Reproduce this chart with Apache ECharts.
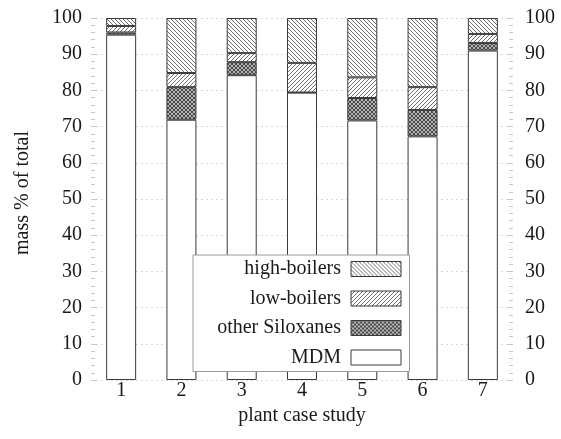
<!DOCTYPE html>
<html>
<head>
<meta charset="utf-8">
<script src="https://cdn.jsdelivr.net/npm/echarts@6/dist/echarts.min.js"></script>
<style>
html,body{margin:0;padding:0;background:#fff;}
#chart{width:561px;height:439px;}
</style>
</head>
<body>
<div id="chart"></div>
<script>
const categories = ['1', '2', '3', '4', '5', '6', '7'];
const mdm = [95.4, 71.9, 84.2, 79.4, 71.7, 67.3, 91.0];
const otherSiloxanes = [0.6, 9.0, 3.6, 0, 6.2, 7.3, 2.1];
const lowBoilers = [1.8, 3.9, 2.5, 8.2, 5.7, 6.3, 2.5];
const highBoilers = [2.2, 15.2, 9.7, 12.4, 16.4, 19.1, 4.4];
const yTicks = [0, 10, 20, 30, 40, 50, 60, 70, 80, 90, 100];

function makeTile(kind) {
  const c = document.createElement('canvas');
  c.width = 4; c.height = 4;
  const g = c.getContext('2d');
  if (kind === 'cross') {
    g.fillStyle = '#b4b4b4'; g.fillRect(0, 0, 4, 4);
    g.fillStyle = '#4a4a4a';
    for (let i = 0; i < 4; i++) { g.fillRect(i, i, 1, 1); g.fillRect(3 - i, i, 1, 1); }
  } else {
    g.fillStyle = '#ffffff'; g.fillRect(0, 0, 4, 4);
    g.fillStyle = '#707070';
    for (let i = 0; i < 4; i++) {
      if (kind === 'back') g.fillRect(i, i, 1, 1);
      else g.fillRect(3 - i, i, 1, 1);
    }
  }
  return { image: c, repeat: 'repeat' };
}

const FONT = 'Liberation Serif';
const txt = { fontFamily: FONT, fontSize: 20, color: '#1a1a1a' };
const border = { borderColor: '#3a3a3a', borderWidth: 1 };

function yAxis(pos, margin) {
  return {
    type: 'value', position: pos, min: yTicks[0], max: yTicks[yTicks.length - 1], interval: 10,
    axisLine: { show: false },
    axisTick: { show: true, inside: true, length: 6, lineStyle: { color: '#c8c8c8' } },
    minorTick: { show: true, splitNumber: 5, length: 4, lineStyle: { color: '#c8c8c8' } },
    splitLine: { show: pos === 'left', lineStyle: { color: '#d8d8d8', type: [2, 3] } },
    axisLabel: Object.assign({ margin: margin, formatter: v => String(v) }, txt)
  };
}

const chart = echarts.init(document.getElementById('chart'), null, { renderer: 'canvas' });
const barW = 30;
chart.setOption({
  animation: false,
  backgroundColor: '#fff',
  grid: { left: 91, right: 48, top: 18, bottom: 59 },
  xAxis: {
    type: 'category', data: categories,
    axisLine: { show: false }, axisTick: { show: false },
    axisLabel: Object.assign({ margin: 1 }, txt),
    name: 'plant case study', nameLocation: 'middle', nameGap: 23,
    nameTextStyle: txt
  },
  yAxis: [
    Object.assign(yAxis('left', 9), {
      name: 'mass % of total', nameLocation: 'middle', nameGap: 58, nameRotate: 90,
      nameTextStyle: Object.assign({ padding: [0, 0, 0, 12] }, txt)
    }),
    yAxis('right', 12)
  ],
  legend: {
    orient: 'vertical', align: 'right', left: 193, top: 255,
    data: ['high-boilers', 'low-boilers', 'other Siloxanes', 'MDM'],
    icon: 'rect',
    itemWidth: 50, itemHeight: 15, itemGap: 9.5,
    padding: [4, 8, 4, 20],
    backgroundColor: '#fff', borderColor: '#9a9a9a', borderWidth: 1,
    itemStyle: { borderColor: '#3a3a3a', borderWidth: 1 },
    textStyle: Object.assign({ width: 128, align: 'right', lineHeight: 20, padding: [0, 5, 0, 0] }, txt)
  },
  series: [
    { name: 'MDM', type: 'bar', stack: 's', data: mdm, barWidth: barW,
      itemStyle: Object.assign({ color: '#ffffff' }, border) },
    { name: 'other Siloxanes', type: 'bar', stack: 's', data: otherSiloxanes, barWidth: barW,
      itemStyle: Object.assign({ color: makeTile('cross') }, border) },
    { name: 'low-boilers', type: 'bar', stack: 's', data: lowBoilers, barWidth: barW,
      itemStyle: Object.assign({ color: makeTile('fwd') }, border) },
    { name: 'high-boilers', type: 'bar', stack: 's', data: highBoilers, barWidth: barW,
      itemStyle: Object.assign({ color: makeTile('back') }, border) }
  ]
});
</script>
</body>
</html>
